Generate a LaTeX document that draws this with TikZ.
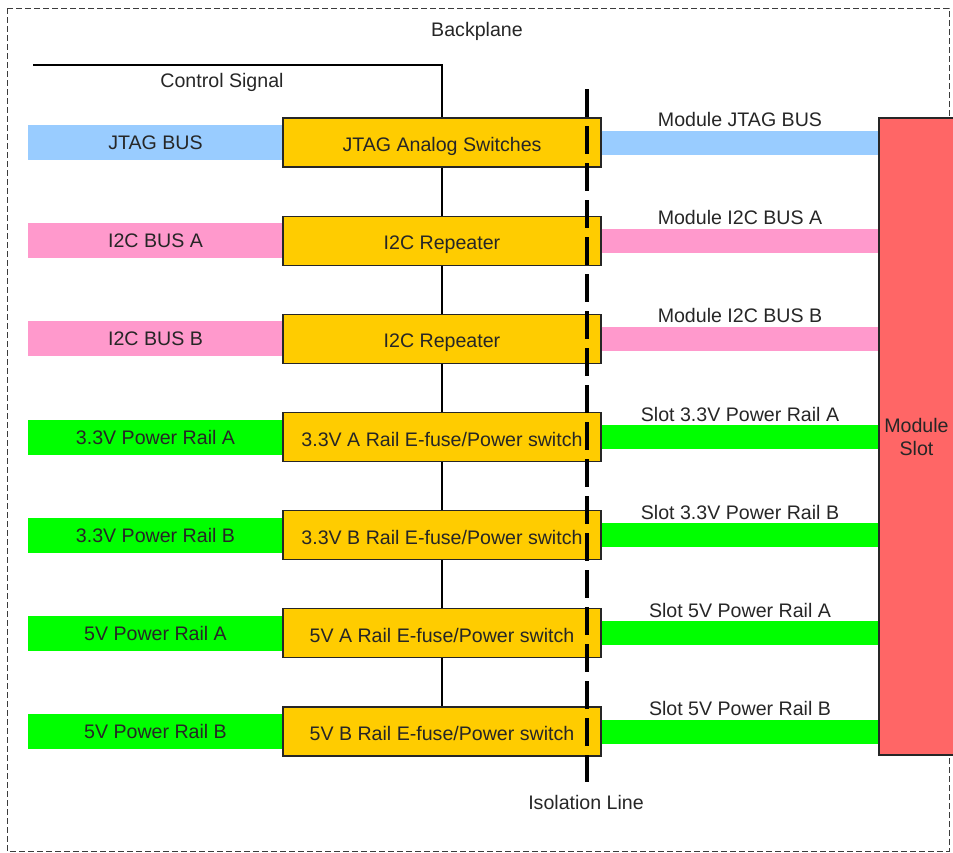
\documentclass[tikz,border=0pt]{standalone}
\usepackage{fontspec}
\setmainfont{Liberation Sans}
\definecolor{jtagblue}{HTML}{99CCFF}
\definecolor{i2cpink}{HTML}{FF99CC}
\definecolor{pwrgreen}{HTML}{00FF00}
\definecolor{swyellow}{HTML}{FFCC00}
\definecolor{slotred}{HTML}{FF6666}
\definecolor{ink}{HTML}{262626}
\begin{document}
\begin{tikzpicture}[x=1pt,y=-1pt,
  font=\fontsize{19.6}{23}\selectfont,
  frame/.style={draw=ink!90, line width=1pt, dash pattern=on 6pt off 3pt},
  srcbus/.style={minimum width=255pt, minimum height=35pt, inner sep=0pt, text=ink},
  swbox/.style={draw=ink, line width=1.2pt, fill=swyellow, minimum width=318pt,
                minimum height=49pt, inner sep=0pt, text=ink,
                text height=14pt, text depth=0pt},
  slotbox/.style={draw=ink, line width=1.2pt, fill=slotred, minimum width=75pt,
                  minimum height=637pt, inner sep=0pt, align=center, text=ink},
  link/.style={line width=24pt},
  linklabel/.style={text=ink, inner sep=0pt},
  ctlwire/.style={draw=black, line width=1.1pt},
  isoline/.style={draw=black, line width=4pt, dash pattern=on 28pt off 9pt},
  plainlabel/.style={text=ink, inner sep=0pt}]
\useasboundingbox (0,0) rectangle (953,852);

% backplane outline
\draw[frame] (7,8) rectangle (949,851);
\node[plainlabel] (bp) at (477,31) {Backplane};

% module slot on the right
\node[slotbox] (slot) at (916.5,436.5) {Module\\Slot};

% control signal wire
\coordinate (ctl) at (33,65);
\node[plainlabel] (ctllbl) at (222,82) {Control Signal};

% rows: source bus, switch block, module-side link
\foreach \i/\y/\col/\src/\sw/\dst in {
  1/142.5/jtagblue/{JTAG BUS}/{JTAG Analog Switches}/{Module JTAG BUS},
  2/240.7/i2cpink/{I2C BUS A}/{I2C Repeater}/{Module I2C BUS A},
  3/338.8/i2cpink/{I2C BUS B}/{I2C Repeater}/{Module I2C BUS B},
  4/437.0/pwrgreen/{3.3V Power Rail A}/{3.3V A Rail E-fuse/Power switch}/{Slot 3.3V Power Rail A},
  5/535.2/pwrgreen/{3.3V Power Rail B}/{3.3V B Rail E-fuse/Power switch}/{Slot 3.3V Power Rail B},
  6/633.3/pwrgreen/{5V Power Rail A}/{5V A Rail E-fuse/Power switch}/{Slot 5V Power Rail A},
  7/731.5/pwrgreen/{5V Power Rail B}/{5V B Rail E-fuse/Power switch}/{Slot 5V Power Rail B}}
{
  \node[srcbus, fill=\col] (src\i) at (155.5,\y) {\src};
  \node[swbox] (sw\i) at (442,\y) {\raisebox{-2pt}{\sw}};
  \draw[link, draw=\col] (sw\i.east) -- (sw\i.east -| slot.west)
    node[linklabel, midway, yshift=23pt] (dst\i) {\dst};
}

% control wire into the switch chain
\draw[ctlwire] (ctl) -- (ctl -| sw1.north) -- (sw1.north);
\foreach \a/\b in {1/2,2/3,3/4,4/5,5/6,6/7}
  \draw[ctlwire] (sw\a.south) -- (sw\b.north);

% isolation line
\coordinate (isotop) at (587,89);
\coordinate (isobot) at (587,782);
\draw[isoline] (isotop) -- (isobot);
\node[plainlabel] (isolbl) at (586,802) {Isolation Line};
\end{tikzpicture}
\end{document}
